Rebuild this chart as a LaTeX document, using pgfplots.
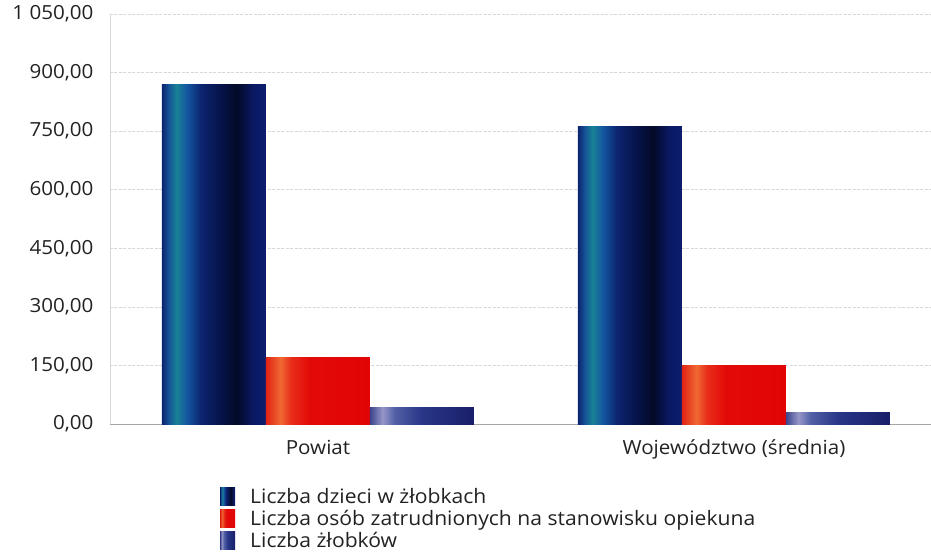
\documentclass[border=0pt]{standalone}
\usepackage{fontspec}
\setmainfont{Open Sans}[FakeStretch=1.06]
\usepackage{pgfplots}
\pgfplotsset{compat=1.18}
\definecolor{txt}{HTML}{222222}
\definecolor{gridc}{HTML}{D8D8D8}
% shadings: the path is mapped onto 25bp..75bp
\pgfdeclarehorizontalshading{bluebar}{100bp}{%
 color(0bp)=({rgb,255:red,12;green,35;blue,110});
 color(25bp)=({rgb,255:red,12;green,35;blue,110});
 color(28bp)=({rgb,255:red,20;green,80;blue,150});
 color(32bp)=({rgb,255:red,25;green,130;blue,150});
 color(37bp)=({rgb,255:red,20;green,85;blue,160});
 color(44bp)=({rgb,255:red,12;green,35;blue,110});
 color(54bp)=({rgb,255:red,6;green,18;blue,70});
 color(61bp)=({rgb,255:red,4;green,10;blue,40});
 color(69bp)=({rgb,255:red,10;green,25;blue,100});
 color(75bp)=({rgb,255:red,12;green,30;blue,110});
 color(100bp)=({rgb,255:red,12;green,30;blue,110})}
\pgfdeclarehorizontalshading{redbar}{100bp}{%
 color(0bp)=({rgb,255:red,225;green,35;blue,20});
 color(25bp)=({rgb,255:red,225;green,35;blue,20});
 color(32bp)=({rgb,255:red,240;green,105;blue,50});
 color(37bp)=({rgb,255:red,232;green,45;blue,25});
 color(46bp)=({rgb,255:red,226;green,10;blue,8});
 color(75bp)=({rgb,255:red,226;green,4;blue,4});
 color(100bp)=({rgb,255:red,226;green,4;blue,4})}
\pgfdeclarehorizontalshading{navybar}{100bp}{%
 color(0bp)=({rgb,255:red,60;green,70;blue,140});
 color(25bp)=({rgb,255:red,60;green,70;blue,140});
 color(31bp)=({rgb,255:red,150;green,150;blue,200});
 color(37bp)=({rgb,255:red,80;green,95;blue,165});
 color(50bp)=({rgb,255:red,40;green,55;blue,135});
 color(75bp)=({rgb,255:red,25;green,30;blue,105});
 color(100bp)=({rgb,255:red,25;green,30;blue,105})}
\begin{document}
\begin{tikzpicture}
\useasboundingbox (-110bp,-134bp) rectangle (821bp,424bp);
\begin{axis}[
  at={(0,0)}, anchor=south west,
  scale only axis, width=821bp, height=410bp,
  xmin=-0.5, xmax=1.4736, ymin=0, ymax=1050,
  ybar=0pt, bar width=104bp,
  xtick={0,1}, xticklabels={Powiat,{Województwo (średnia)}},
  ytick={0,150,300,450,600,750,900,1050},
  yticklabels={{0,00},{150,00},{300,00},{450,00},{600,00},{750,00},{900,00},{1 050,00}},
  tick style={draw=none},
  ticklabel style={font=\fontsize{19.5}{22}\selectfont, text=txt},
  yticklabel style={xshift=-13bp},
  xticklabel style={yshift=-8bp},
  axis x line*=bottom, axis y line*=left,
  x axis line style={draw=gray!70, -},
  y axis line style={draw=gridc, -},
  ymajorgrids, major grid style={draw=gridc, dash pattern=on 3bp off 1.5bp, line width=0.6bp},
  legend style={at={(0.134,-0.152)}, anchor=north west, draw=none, fill=none,
     font=\fontsize{20}{22}\selectfont, text=txt, cells={anchor=west},
     row sep=1bp, inner sep=0pt},
  legend image code/.code={\path[#1] (0bp,-9bp) rectangle (15bp,9bp); \path (28bp,0bp);},
]
\addplot[draw=none, shade, shading=bluebar, bar shift=-104bp] coordinates {(0,870)};
\addplot[draw=none, shade, shading=redbar, bar shift=0bp] coordinates {(0,171)};
\addplot[draw=none, shade, shading=navybar, bar shift=104bp] coordinates {(0,43)};
\addplot[forget plot, draw=none, shade, shading=bluebar, bar shift=-104bp] coordinates {(1,763)};
\addplot[forget plot, draw=none, shade, shading=redbar, bar shift=0bp] coordinates {(1,149)};
\addplot[forget plot, draw=none, shade, shading=navybar, bar shift=104bp] coordinates {(1,30)};
\legend{Liczba dzieci w żłobkach, Liczba osób zatrudnionych na stanowisku opiekuna, Liczba żłobków}
\end{axis}
\end{tikzpicture}
\end{document}
